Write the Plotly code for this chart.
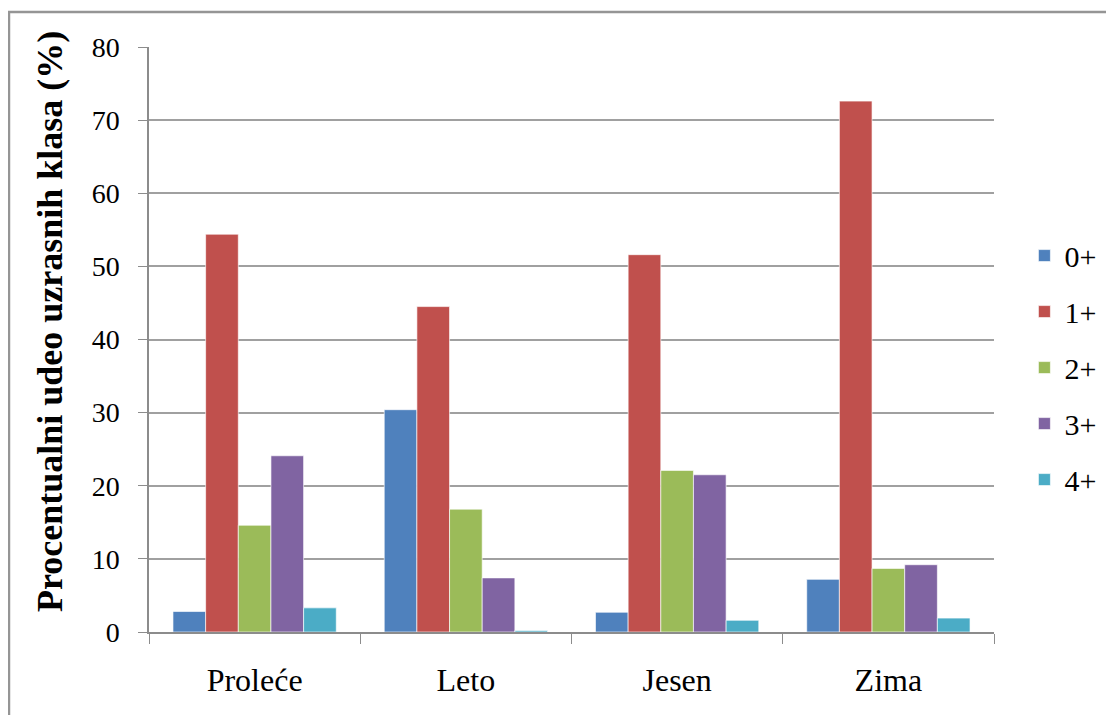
import plotly.graph_objects as go

# --- Data ---
seasons = ['Proleće', 'Leto', 'Jesen', 'Zima']
age_classes = ['0+', '1+', '2+', '3+', '4+']

share_0 = [2.8, 30.4, 2.7, 7.2]
share_1 = [54.4, 44.5, 51.6, 72.6]
share_2 = [14.6, 16.8, 22.1, 8.7]
share_3 = [24.1, 7.4, 21.5, 9.2]
share_4 = [3.3, 0.2, 1.6, 1.9]

colors = ['#4F81BD', '#C0504D', '#9BBB59', '#8064A2', '#4BACC6']
y_ticks = [0, 10, 20, 30, 40, 50, 60, 70, 80]

series = [share_0, share_1, share_2, share_3, share_4]

fig = go.Figure()

for name, values, color in zip(age_classes, series, colors):
    fig.add_trace(go.Bar(
        x=seasons,
        y=values,
        name=name,
        legendgroup=name,
        marker=dict(color=color, line=dict(color='rgba(255,255,255,0.8)', width=0.8))
    ))

font_family = 'Liberation Serif, Times New Roman, serif'

# page body has an 8px margin, so the figure is 8px smaller than the window
fig.update_layout(
    width=1106,
    height=707,
    barmode='group',
    bargap=0.227,
    bargroupgap=0,
    plot_bgcolor='white',
    paper_bgcolor='white',
    margin=dict(l=141, r=120, t=39, b=83),
    font=dict(family=font_family, color='black'),
    showlegend=True,
    legend=dict(
        x=1.036, xanchor='left',
        y=0.452, yanchor='middle',
        font=dict(family=font_family, size=30, color='black'),
        traceorder='grouped',
        tracegroupgap=14,
        bgcolor='rgba(0,0,0,0)'
    ),
    annotations=[dict(
        text='<b>Procentualni udeo uzrasnih klasa (%)</b>',
        xref='paper', yref='paper',
        x=-0.117, y=0.53,
        xanchor='center', yanchor='middle',
        textangle=-90,
        showarrow=False,
        font=dict(family=font_family, size=36, color='black')
    )],
    shapes=[dict(
        type='rect', xref='paper', yref='paper',
        x0=-0.1657, x1=1.2, y0=-0.2, y1=1.0598,
        line=dict(color='#959595', width=2.5),
        fillcolor='rgba(0,0,0,0)', layer='below'
    )]
)

fig.update_xaxes(
    showline=True, linecolor='#8c8c8c', linewidth=1.5,
    ticks='outside', ticklen=10, tickcolor='#8c8c8c', tickwidth=1.3,
    tickson='boundaries',
    showgrid=False,
    tickfont=dict(family=font_family, size=32, color='black'),
    ticklabelstandoff=19
)

fig.update_yaxes(
    range=[0, 80],
    tickvals=y_ticks,
    showline=True, linecolor='#8c8c8c', linewidth=1.5,
    ticks='outside', ticklen=9, tickcolor='#8c8c8c', tickwidth=1.3,
    showgrid=True, gridcolor='#a0a0a0', gridwidth=1.5,
    zeroline=False,
    tickfont=dict(family=font_family, size=28, color='black'),
    ticklabelstandoff=13
)

fig.write_html('out.html')
